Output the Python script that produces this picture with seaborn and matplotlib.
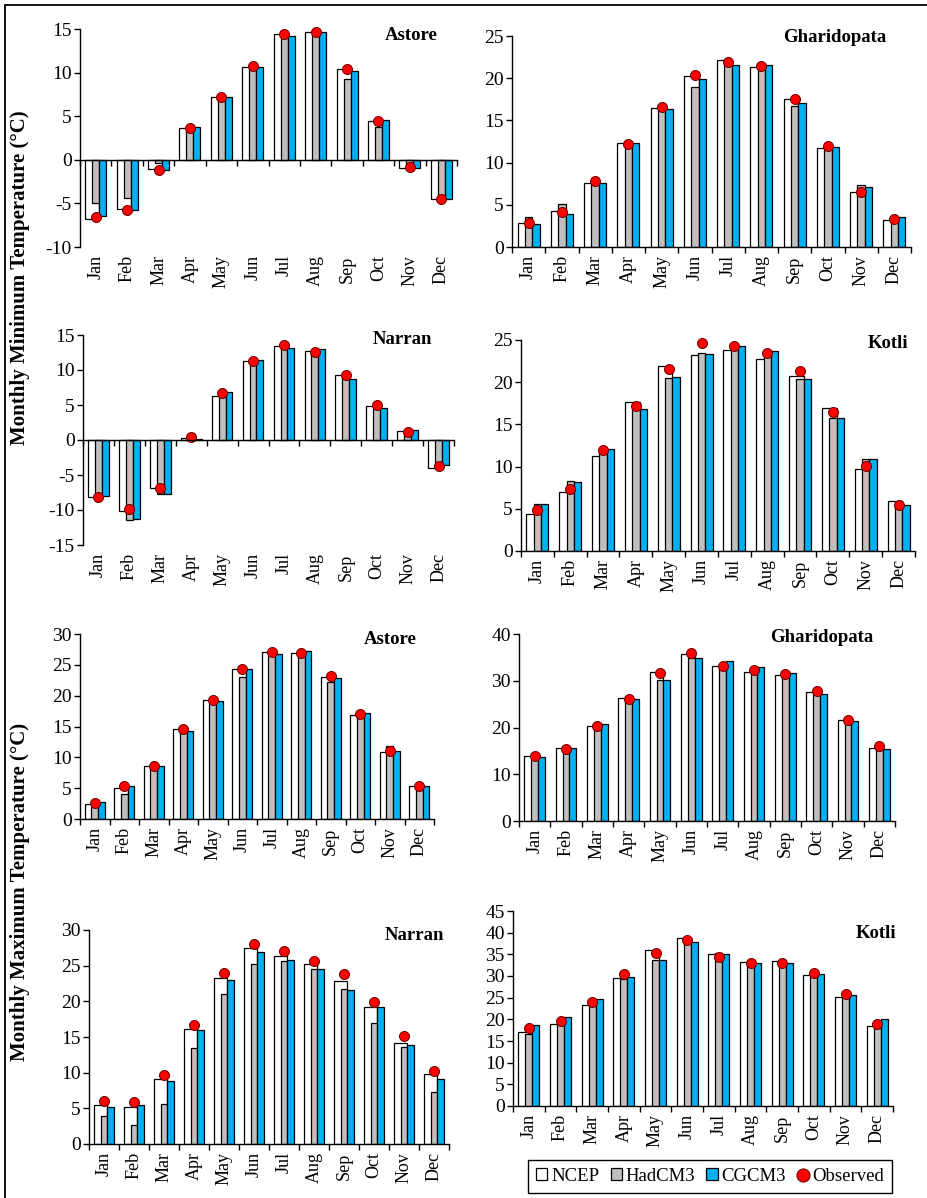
import numpy as np
import matplotlib
matplotlib.use("Agg")
import matplotlib.pyplot as plt
import seaborn as sns
from matplotlib.patches import Patch
from matplotlib.lines import Line2D

# ---------------------------------------------------------------- data
months = ["Jan", "Feb", "Mar", "Apr", "May", "Jun",
          "Jul", "Aug", "Sep", "Oct", "Nov", "Dec"]
series_names = ["NCEP", "HadCM3", "CGCM3", "Observed"]

# Monthly minimum temperature (°C)
astore_min_ncep = [-6.8, -5.6, -1.1, 3.7, 7.25, 10.65, 14.45, 14.65, 10.4, 4.5, -0.9, -4.55]
astore_min_hadcm3 = [-4.9, -4.4, -0.4, 3.4, 7.0, 10.5, 14.0, 14.5, 9.3, 3.8, -0.5, -4.0]
astore_min_cgcm3 = [-6.5, -5.7, -1.2, 3.8, 7.2, 10.65, 14.25, 14.65, 10.2, 4.55, -0.9, -4.5]
astore_min_obs = [-6.6, -5.7, -1.15, 3.7, 7.25, 10.8, 14.45, 14.6, 10.4, 4.4, -0.8, -4.55]

gharidopata_min_ncep = [2.85, 4.3, 7.6, 12.3, 16.5, 20.3, 22.1, 21.3, 17.5, 11.7, 6.5, 3.25]
gharidopata_min_hadcm3 = [3.6, 5.1, 7.8, 12.1, 16.3, 18.9, 21.6, 21.4, 16.7, 11.9, 7.4, 3.0]
gharidopata_min_cgcm3 = [2.7, 3.95, 7.6, 12.3, 16.4, 19.9, 21.6, 21.6, 17.1, 11.8, 7.1, 3.5]
gharidopata_min_obs = [2.85, 4.1, 7.8, 12.25, 16.6, 20.4, 21.9, 21.4, 17.55, 11.95, 6.5, 3.3]

narran_min_ncep = [-8.15, -10.1, -6.9, 0.25, 6.35, 11.3, 13.4, 12.7, 9.3, 4.85, 1.25, -4.0]
narran_min_hadcm3 = [-8.0, -11.4, -7.7, 0.15, 6.1, 10.9, 13.05, 12.5, 9.0, 4.5, 0.95, -3.8]
narran_min_cgcm3 = [-8.05, -11.35, -7.75, 0.1, 6.85, 11.5, 13.1, 12.95, 8.7, 4.55, 1.4, -3.6]
narran_min_obs = [-8.15, -9.8, -6.9, 0.4, 6.65, 11.35, 13.6, 12.6, 9.35, 4.95, 1.2, -3.7]

kotli_min_ncep = [4.4, 7.0, 11.3, 17.7, 21.95, 23.2, 23.8, 22.7, 20.7, 17.0, 9.7, 5.9]
kotli_min_hadcm3 = [5.55, 8.3, 11.8, 17.4, 20.5, 23.5, 23.8, 23.4, 20.4, 15.8, 10.9, 5.3]
kotli_min_cgcm3 = [5.55, 8.2, 12.05, 16.8, 20.6, 23.4, 24.25, 23.7, 20.35, 15.7, 10.85, 5.5]
kotli_min_obs = [4.8, 7.3, 11.95, 17.2, 21.6, 24.7, 24.25, 23.5, 21.3, 16.5, 10.1, 5.5]

# Monthly maximum temperature (°C)
astore_max_ncep = [2.5, 5.05, 8.6, 14.6, 19.3, 24.3, 27.1, 26.95, 23.05, 16.8, 10.9, 5.3]
astore_max_hadcm3 = [1.95, 4.1, 8.2, 14.1, 18.9, 23.1, 26.7, 26.7, 22.25, 16.85, 11.85, 4.9]
astore_max_cgcm3 = [2.75, 5.4, 8.65, 14.35, 19.1, 24.35, 26.7, 27.2, 22.9, 17.2, 11.05, 5.3]
astore_max_obs = [2.6, 5.3, 8.55, 14.6, 19.3, 24.25, 27.1, 26.95, 23.2, 16.95, 11.0, 5.3]

gharidopata_max_ncep = [13.8, 15.7, 20.3, 26.3, 31.9, 35.7, 33.1, 31.9, 31.25, 27.5, 21.5, 15.7]
gharidopata_max_hadcm3 = [13.45, 15.2, 20.6, 25.9, 30.2, 34.8, 32.7, 32.0, 30.7, 27.1, 20.9, 15.2]
gharidopata_max_cgcm3 = [13.6, 15.6, 20.8, 26.05, 30.2, 34.8, 34.2, 32.9, 31.7, 27.1, 21.4, 15.45]
gharidopata_max_obs = [13.9, 15.5, 20.3, 26.1, 31.7, 36.0, 33.25, 32.3, 31.45, 27.75, 21.7, 15.95]

narran_max_ncep = [5.45, 5.25, 9.1, 16.15, 23.25, 27.5, 26.4, 25.2, 22.9, 19.25, 14.2, 9.8]
narran_max_hadcm3 = [3.9, 2.7, 5.65, 13.4, 21.05, 25.25, 25.7, 24.6, 21.7, 17.0, 13.55, 7.35]
narran_max_cgcm3 = [5.2, 5.45, 8.9, 16.0, 23.0, 26.9, 25.75, 24.55, 21.55, 19.15, 13.85, 9.1]
narran_max_obs = [6.0, 5.9, 9.7, 16.65, 24.0, 28.1, 27.0, 25.65, 23.8, 19.85, 15.15, 10.25]

kotli_max_ncep = [17.1, 19.0, 23.3, 29.5, 36.0, 38.8, 35.05, 33.2, 33.5, 30.3, 25.2, 18.5]
kotli_max_hadcm3 = [16.7, 18.6, 23.6, 29.2, 33.8, 38.3, 35.2, 33.5, 33.3, 30.0, 25.3, 18.1]
kotli_max_cgcm3 = [18.8, 20.6, 24.65, 29.8, 33.6, 37.9, 35.1, 33.05, 33.05, 30.4, 25.65, 20.1]
kotli_max_obs = [18.0, 19.7, 24.1, 30.4, 35.2, 38.2, 34.3, 33.05, 33.05, 30.8, 25.8, 18.95]

# ---------------------------------------------------------------- style
sns.set_theme(style="white")
plt.rcParams["font.family"] = ["Liberation Serif", "DejaVu Serif"]
plt.rcParams.update({
    "axes.unicode_minus": False,
    "text.color": "black",
    "axes.edgecolor": "black",
    "xtick.color": "black",
    "ytick.color": "black",
    "axes.facecolor": "white",
    "figure.facecolor": "white",
})

COL_NCEP = "white"
COL_HAD = "#bfbfbf"
COL_CG = "#00b0f0"
COL_OBS = "#ff0000"
EDGE = "black"

W, H = 927, 1198
fig = plt.figure(figsize=(W / 100, H / 100), dpi=100)

# panel frames in pixels: left, right, top, bottom
panels = [
    (astore_min_ncep, astore_min_hadcm3, astore_min_cgcm3, astore_min_obs,
     "Astore", (80, 457, 29, 247), (-10, 15, 5), (438, 35)),
    (gharidopata_min_ncep, gharidopata_min_hadcm3, gharidopata_min_cgcm3, gharidopata_min_obs,
     "Gharidopata", (512, 911, 36, 247), (0, 25, 5), (886, 37)),
    (narran_min_ncep, narran_min_hadcm3, narran_min_cgcm3, narran_min_obs,
     "Narran", (83, 454, 335, 545), (-15, 15, 5), (432, 339)),
    (kotli_min_ncep, kotli_min_hadcm3, kotli_min_cgcm3, kotli_min_obs,
     "Kotli", (521, 915, 340, 551), (0, 25, 5), (908, 344)),
    (astore_max_ncep, astore_max_hadcm3, astore_max_cgcm3, astore_max_obs,
     "Astore", (80, 434, 634, 819), (0, 30, 5), (417, 640)),
    (gharidopata_max_ncep, gharidopata_max_hadcm3, gharidopata_max_cgcm3, gharidopata_max_obs,
     "Gharidopata", (519, 895, 634, 821), (0, 40, 10), (873, 638)),
    (narran_max_ncep, narran_max_hadcm3, narran_max_cgcm3, narran_max_obs,
     "Narran", (89, 449, 930, 1144), (0, 30, 5), (444, 935)),
    (kotli_max_ncep, kotli_max_hadcm3, kotli_max_cgcm3, kotli_max_obs,
     "Kotli", (513, 893, 911, 1106), (0, 45, 5), (896, 933)),
]

x = np.arange(len(months))
u = 0.223  # unit bar width as fraction of a month slot


def draw_panel(ax, ncep, had, cg, obs, yrange):
    common = dict(native_scale=True, saturation=1, errorbar=None,
                  edgecolor=EDGE, linewidth=0.9, ax=ax)
    sns.barplot(x=x - 0.5 * u, y=ncep, width=2 * u, color=COL_NCEP, **common)
    sns.barplot(x=x, y=had, width=u, color=COL_HAD, **common)
    sns.barplot(x=x + u, y=cg, width=u, color=COL_CG, **common)
    sns.scatterplot(x=x, y=obs, color=COL_OBS, edgecolor="#6a0000",
                    linewidth=0.7, s=52, zorder=5, legend=False, ax=ax,
                    clip_on=False)

    ymin, ymax, step = yrange
    ax.set_xlim(-0.5, len(months) - 0.5)
    ax.set_ylim(ymin, ymax)
    ax.set_yticks(np.arange(ymin, ymax + step / 2, step))
    ax.set_ylabel("")
    ax.set_xlabel("")

    for side in ("top", "right"):
        ax.spines[side].set_visible(False)
    ax.spines["left"].set_linewidth(1.0)
    ax.spines["bottom"].set_linewidth(1.0)
    ax.spines["bottom"].set_position(("data", 0))
    ax.spines["bottom"].set_zorder(6)

    ax.set_xticks(np.arange(-0.5, len(months), 1.0))
    ax.tick_params(axis="x", bottom=True, direction="out", length=4, width=1,
                   labelbottom=False)
    ax.tick_params(axis="y", left=True, direction="out", length=4, width=1,
                   labelsize=14, pad=2)

    # month names sit under the plotting area, whatever the sign of the data
    sec = ax.secondary_xaxis("bottom")
    sec.set_xticks(x, labels=months, rotation=90)
    sec.tick_params(axis="x", length=0, pad=6, labelsize=13)
    sec.spines["bottom"].set_visible(False)
    ax.grid(False)


for ncep, had, cg, obs, station, (l, r, t, b), yrange, (tx, ty) in panels:
    ax = fig.add_axes([l / W, 1 - b / H, (r - l) / W, (b - t) / H])
    draw_panel(ax, ncep, had, cg, obs, yrange)
    fig.text(tx / W, 1 - ty / H, station, ha="right", va="center",
             fontsize=13.5, fontweight="bold")

# shared y-axis titles
fig.text(20 / W, 1 - 278 / H, "Monthly Minimum Temperature (°C)", rotation=90,
         ha="center", va="center", fontsize=15, fontweight="bold")
fig.text(20 / W, 1 - 892 / H, "Monthly Maximum Temperature (°C)", rotation=90,
         ha="center", va="center", fontsize=15, fontweight="bold")

# frame lines along the top and left of the figure
fig.add_artist(Line2D([4.5 / W, 4.5 / W], [0, 1 - 4.5 / H],
                      transform=fig.transFigure, color="black", lw=1.3))
fig.add_artist(Line2D([4.5 / W, 1], [1 - 4.5 / H, 1 - 4.5 / H],
                      transform=fig.transFigure, color="black", lw=1.3))

handles = [
    Patch(facecolor=COL_NCEP, edgecolor=EDGE, linewidth=0.9, label=series_names[0]),
    Patch(facecolor=COL_HAD, edgecolor=EDGE, linewidth=0.9, label=series_names[1]),
    Patch(facecolor=COL_CG, edgecolor=EDGE, linewidth=0.9, label=series_names[2]),
    Line2D([], [], marker="o", linestyle="none", markerfacecolor=COL_OBS,
           markeredgecolor="#6a0000", markeredgewidth=0.7, markersize=9.5,
           label=series_names[3]),
]
leg = fig.legend(handles=handles, loc="center", bbox_to_anchor=(710 / W, 1 - 1176.5 / H),
                 ncol=4, frameon=True, fancybox=False, edgecolor="black",
                 framealpha=1, fontsize=13.5, handlelength=0.6, handleheight=0.6,
                 handletextpad=0.2, columnspacing=0.6, borderpad=0.45,
                 borderaxespad=0)
leg.get_frame().set_linewidth(1.0)

fig.savefig("out.png", dpi=100, facecolor="white")
